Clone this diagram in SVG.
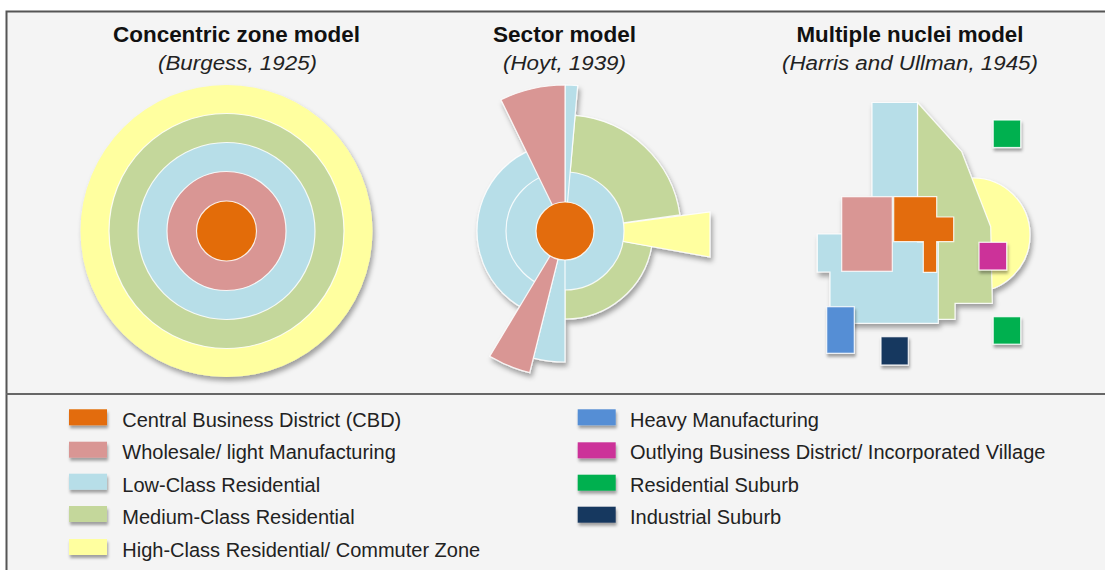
<svg xmlns="http://www.w3.org/2000/svg" width="1105" height="570" viewBox="0 0 1105 570">
<defs>
<filter id="sh" x="-20%" y="-20%" width="150%" height="150%">
<feDropShadow dx="2" dy="4" stdDeviation="2.5" flood-color="#000" flood-opacity="0.35"/>
</filter>
<filter id="shs" x="-30%" y="-30%" width="170%" height="190%">
<feDropShadow dx="1" dy="3" stdDeviation="1.5" flood-color="#000" flood-opacity="0.35"/>
</filter>
<style>
.t{font-family:"Liberation Sans",Arial,sans-serif;font-weight:bold;font-size:21.5px;fill:#111;text-anchor:middle}
.s{font-family:"Liberation Sans",Arial,sans-serif;font-style:italic;font-size:20px;fill:#222;text-anchor:middle}
.l{font-family:"Liberation Sans",Arial,sans-serif;font-size:20px;fill:#222}
.cbd{fill:#e36c09}
.pk{fill:#d99694}
.lb{fill:#b7dee8}
.gr{fill:#c4d79b}
.yl{fill:#ffff9f}
.hm{fill:#558ed5}
.ob{fill:#cc3399}
.rs{fill:#00b050}
.is{fill:#17375e}
.w{stroke:#fff;stroke-width:1.2;stroke-opacity:0.85}
</style>
</defs>
<rect x="0" y="0" width="1105" height="570" fill="#fff"/>
<rect x="6.5" y="11.5" width="1110" height="580" fill="#f4f4f4" stroke="#555" stroke-width="2"/>
<line x1="6" y1="394" x2="1105" y2="394" stroke="#666" stroke-width="2.2"/>

<g id="concentric">
<text class="t" x="236.5" y="42" textLength="247" lengthAdjust="spacingAndGlyphs">Concentric zone model</text>
<text class="s" x="237.5" y="70" textLength="159" lengthAdjust="spacingAndGlyphs">(Burgess, 1925)</text>
<g filter="url(#sh)">
<circle class="yl" cx="226.5" cy="231" r="146"/>
</g>
<circle class="gr w" cx="226.5" cy="231" r="117.5"/>
<circle class="lb w" cx="226.5" cy="231" r="88.5"/>
<circle class="pk w" cx="226.5" cy="231" r="59.5"/>
<circle class="cbd w" cx="226.5" cy="231" r="30"/>
</g>

<g id="sector">
<text class="t" x="564.5" y="42" textLength="143" lengthAdjust="spacingAndGlyphs">Sector model</text>
<text class="s" x="564.5" y="70" textLength="123" lengthAdjust="spacingAndGlyphs">(Hoyt, 1939)</text>
<g filter="url(#sh)">
<path class="lb w" d="M565,231 L565,319 A88,88 0 0 1 565,143 Z"/>
<path class="gr w" d="M565,231 L651.7,246.3 A88,88 0 0 1 565,319 Z"/>
<path class="gr w" d="M565,231 L575.1,115.4 A116,116 0 0 1 679.9,214.9 Z"/>
<path class="yl w" d="M565,231 L710,212 L710,257 Z"/>
<circle class="lb w" cx="565" cy="231" r="59"/>
<path class="lb w" d="M565,231 L565,85 A146,146 0 0 1 577.7,85.6 Z"/>
<path class="lb w" d="M565,231 L565,362 A131,131 0 0 1 533.3,358.1 Z"/>
<path class="pk w" d="M565,231 L501,99.8 A146,146 0 0 1 565,85 Z"/>
<path class="pk w" d="M565,231 L529.7,372.7 A146,146 0 0 1 489.8,356.2 Z"/>
<circle class="cbd w" cx="565" cy="231" r="29"/>
</g>
</g>

<g id="nuclei">
<text class="t" x="910" y="42" textLength="227" lengthAdjust="spacingAndGlyphs">Multiple nuclei model</text>
<text class="s" x="910" y="70" textLength="256" lengthAdjust="spacingAndGlyphs">(Harris and Ullman, 1945)</text>
<g filter="url(#sh)">
<circle class="yl w" cx="973" cy="235" r="57"/>
<path class="gr w" d="M917.5,102.5 L961.7,151.7 L990.7,226.7 L992.3,303.3 L955,303.3 L955,319.3 L925,319.3 L917.5,319.3 Z"/>
<path class="lb w" d="M872,102.5 L917.5,102.5 L917.5,242 L938.3,242 L938.3,323.3 L830,323.3 L830,272 L817.3,272 L817.3,234 L872,234 Z"/>
<rect class="pk w" x="841.7" y="196.7" width="50.6" height="74.6"/>
<path class="cbd w" d="M893.7,196.7 L936.7,196.7 L936.7,217 L953.7,217 L953.7,241.7 L936.7,241.7 L936.7,272.3 L923.3,272.3 L923.3,241.7 L893.7,241.7 Z"/>
</g>
<g filter="url(#shs)">
<rect class="ob w" x="979" y="242.3" width="27.7" height="27.7"/>
<rect class="rs w" x="993.2" y="120" width="27.5" height="27.5"/>
<rect class="rs w" x="993.2" y="316.7" width="27.5" height="27.5"/>
<rect class="hm w" x="826.7" y="306.7" width="27.6" height="46.6"/>
<rect class="is w" x="881" y="336.7" width="27.3" height="28.3"/>
</g>
</g>

<g id="legend">
<g filter="url(#shs)">
<rect class="cbd" x="69" y="409.3" width="38" height="16"/>
<rect class="pk" x="69" y="441.7" width="38" height="16"/>
<rect class="lb" x="69" y="473.7" width="38" height="16"/>
<rect class="gr" x="69" y="506" width="38" height="16"/>
<rect class="yl" x="69" y="539" width="38" height="16"/>
<rect class="hm" x="577.7" y="409.3" width="38" height="16"/>
<rect class="ob" x="577.7" y="442.3" width="38" height="16"/>
<rect class="rs" x="577.7" y="474.7" width="38" height="16"/>
<rect class="is" x="577.7" y="506.7" width="38" height="16"/>
</g>
<text class="l" x="122.3" y="426.5">Central Business District (CBD)</text>
<text class="l" x="122.3" y="459">Wholesale/ light Manufacturing</text>
<text class="l" x="122.3" y="491.5">Low-Class Residential</text>
<text class="l" x="122.3" y="524">Medium-Class Residential</text>
<text class="l" x="122.3" y="556.5">High-Class Residential/ Commuter Zone</text>
<text class="l" x="630" y="426.5">Heavy Manufacturing</text>
<text class="l" x="630" y="459">Outlying Business District/ Incorporated Village</text>
<text class="l" x="630" y="491.5">Residential Suburb</text>
<text class="l" x="630" y="524">Industrial Suburb</text>
</g>
</svg>
